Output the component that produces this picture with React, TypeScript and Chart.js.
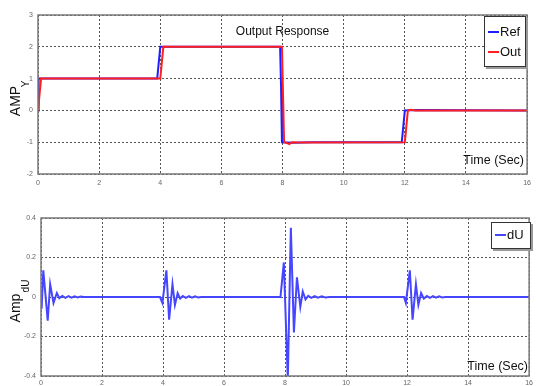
import { useEffect, useRef } from "react";
import { Chart, registerables } from "chart.js";
Chart.register(...registerables);

const FONT = "'Liberation Sans', Arial, sans-serif";

// ---- data ----
const xTickValues = [0, 2, 4, 6, 8, 10, 12, 14, 16];
const yTopTicks = [3, 2, 1, 0, -1, -2];
const yBottomTicks = [0.4, 0.2, 0, -0.2, -0.4];

const refT = [0, 0.02, 0.3, 3.9, 4.0, 4.3, 7.92, 7.95, 7.98, 8.3, 9.0, 11.9, 12.0, 12.3, 16];
const refY = [0, 1, 1, 1, 2, 2, 2, 0.8, -1, -1.02, -1, -1, 0, 0.01, 0];

const outT = [0, 0.1, 4.0, 4.1, 7.98, 8.05, 8.15, 8.22, 8.3, 8.45, 12.0, 12.1, 12.2, 12.35, 16];
const outY = [0, 1, 1, 2, 2, -1, -1.03, -1.06, -1.0, -1.01, -1, 0, 0.02, 0, 0];

const duT = [
  0, 0.02, 0.075, 0.22, 0.3, 0.41, 0.52, 0.6, 0.7, 0.8, 0.9, 1.0, 1.1, 1.2, 1.3, 1.4,
  3.9, 3.98, 4.11, 4.2, 4.31, 4.39, 4.48, 4.56, 4.65, 4.75, 4.85, 4.95, 5.05, 5.15, 5.25,
  7.85, 7.96, 8.09, 8.19, 8.29, 8.39, 8.5, 8.58, 8.67, 8.76, 8.86, 8.97, 9.08, 9.2, 9.32, 9.45,
  11.9, 11.96, 12.09, 12.18, 12.29, 12.37, 12.46, 12.55, 12.65, 12.75, 12.85, 12.95, 13.05, 13.15, 13.25,
  16,
];
const duV = [
  0, -0.06, 0.135, -0.12, 0.065, -0.03, 0.02, -0.006, 0.005, -0.004, 0.004, -0.003, 0.003, -0.002, 0.002, 0,
  0, -0.03, 0.135, -0.115, 0.065, -0.04, 0.02, -0.008, 0.005, -0.004, 0.004, -0.003, 0.003, -0.002, 0,
  0, 0.175, -0.42, 0.35, -0.18, 0.1, -0.05, 0.028, -0.012, 0.006, -0.004, 0.004, -0.003, 0.003, -0.002, 0,
  0, -0.03, 0.135, -0.115, 0.065, -0.04, 0.02, -0.008, 0.005, -0.004, 0.004, -0.003, 0.003, -0.002, 0,
  0,
];

const toPts = (t: number[], v: number[]) => t.map((x, i) => ({ x, y: v[i] }));

type Deco = {
  title?: string;
  yMain: string;
  ySub: string;
  yMainPos: [number, number];
  ySubPos: [number, number];
  timePos: [number, number];
  legend: { box: [number, number, number, number]; items: { label: string; color: string; y: number }[] };
};

function decoPlugin(d: Deco) {
  return {
    id: "deco",
    afterDraw(chart: any) {
      const ctx = chart.ctx as CanvasRenderingContext2D;
      const a = chart.chartArea;
      ctx.save();
      ctx.strokeStyle = "#7a7a7a";
      ctx.lineWidth = 1.5;
      ctx.strokeRect(a.left, a.top, a.right - a.left, a.bottom - a.top);
      ctx.fillStyle = "#111";
      ctx.textBaseline = "middle";
      if (d.title) {
        ctx.font = `12px ${FONT}`;
        ctx.textAlign = "center";
        ctx.fillText(d.title, (a.left + a.right) / 2, a.top + 17);
      }
      ctx.font = `12.5px ${FONT}`;
      ctx.textAlign = "right";
      ctx.fillText("Time (Sec)", d.timePos[0], d.timePos[1]);
      ctx.save();
      ctx.translate(d.yMainPos[0], d.yMainPos[1]);
      ctx.rotate(-Math.PI / 2);
      ctx.textAlign = "center";
      ctx.font = `14px ${FONT}`;
      ctx.fillText(d.yMain, 0, 0);
      ctx.restore();
      ctx.save();
      ctx.translate(d.ySubPos[0], d.ySubPos[1]);
      ctx.rotate(-Math.PI / 2);
      ctx.textAlign = "center";
      ctx.font = `10px ${FONT}`;
      ctx.fillText(d.ySub, 0, 0);
      ctx.restore();
      const [bx, by, bw, bh] = d.legend.box;
      ctx.fillStyle = "#9a9a9a";
      ctx.fillRect(bx + 2, by + 2, bw, bh);
      ctx.fillStyle = "#fff";
      ctx.fillRect(bx, by, bw, bh);
      ctx.strokeStyle = "#333";
      ctx.lineWidth = 1;
      ctx.strokeRect(bx + 0.5, by + 0.5, bw - 1, bh - 1);
      ctx.font = `13px ${FONT}`;
      ctx.textAlign = "left";
      for (const it of d.legend.items) {
        ctx.strokeStyle = it.color;
        ctx.lineWidth = 2;
        ctx.beginPath();
        ctx.moveTo(bx + 4, it.y);
        ctx.lineTo(bx + 15, it.y);
        ctx.stroke();
        ctx.fillStyle = "#111";
        ctx.fillText(it.label, bx + 16, it.y);
      }
      ctx.restore();
    },
  };
}

function axisOpts(ticks: number[], min: number, max: number, fit: (s: any) => void, pad: number) {
  return {
    type: "linear" as const,
    min,
    max,
    afterFit: fit,
    afterBuildTicks: (s: any) => {
      s.ticks = ticks.map((v) => ({ value: v }));
    },
    ticks: {
      font: { size: 7, family: FONT },
      color: "#666",
      padding: pad,
      autoSkip: false,
      maxRotation: 0,
      callback: (v: any) => String(v),
    },
    grid: { color: "#555", lineWidth: 1, drawTicks: false },
    border: { display: false, dash: [2, 2] },
  };
}

function useChart(ref: any, cfg: () => any) {
  useEffect(() => {
    const c = new Chart(ref.current, cfg());
    return () => c.destroy();
  }, []);
}

export default function App() {
  const topRef = useRef<HTMLCanvasElement>(null);
  const botRef = useRef<HTMLCanvasElement>(null);

  useChart(topRef, () => ({
    type: "line",
    data: {
      datasets: [
        { label: "Ref", data: toPts(refT, refY), borderColor: "#1f1fff", borderWidth: 2, pointRadius: 0, order: 1, tension: 0 },
        { label: "Out", data: toPts(outT, outY), borderColor: "#ff1f1f", borderWidth: 2, pointRadius: 0, order: 0, tension: 0 },
      ],
    },
    options: {
      responsive: false,
      animation: false,
      layout: { padding: { left: 0, right: 7, top: 15, bottom: 0 } },
      plugins: { legend: { display: false }, tooltip: { enabled: false } },
      scales: {
        x: axisOpts(xTickValues, 0, 16, (s: any) => { s.height = 19; }, 5),
        y: axisOpts(yTopTicks, -2, 3, (s: any) => { s.width = 38; }, 5),
      },
    },
    plugins: [
      decoPlugin({
        title: "Output Response",
        yMain: "AMP",
        ySub: "Y",
        yMainPos: [16, 101],
        ySubPos: [26, 84],
        timePos: [524, 161],
        legend: {
          box: [484, 16, 42, 51],
          items: [
            { label: "Ref", color: "#1f1fff", y: 32 },
            { label: "Out", color: "#ff1f1f", y: 52 },
          ],
        },
      }),
    ],
  }));

  useChart(botRef, () => ({
    type: "line",
    data: {
      datasets: [
        { label: "dU", data: toPts(duT, duV), borderColor: "#4646ff", borderWidth: 2, pointRadius: 0, tension: 0 },
      ],
    },
    options: {
      responsive: false,
      animation: false,
      layout: { padding: { left: 0, right: 4, top: 25, bottom: 0 } },
      plugins: { legend: { display: false }, tooltip: { enabled: false } },
      scales: {
        x: axisOpts(xTickValues, 0, 16, (s: any) => { s.height = 10; }, 3),
        y: axisOpts(yBottomTicks, -0.4, 0.4, (s: any) => { s.width = 41; }, 5),
      },
    },
    plugins: [
      decoPlugin({
        yMain: "Amp",
        ySub: "dU",
        yMainPos: [16, 115],
        ySubPos: [26, 93],
        timePos: [528, 174],
        legend: {
          box: [491, 29, 40, 27],
          items: [{ label: "dU", color: "#4646ff", y: 42 }],
        },
      }),
    ],
  }));

  return (
    <div style={{ position: "absolute", left: 0, top: 0, width: 536, height: 386, background: "#fff" }}>
      <canvas ref={topRef} width={536} height={193} style={{ display: "block" }} />
      <canvas ref={botRef} width={536} height={193} style={{ display: "block" }} />
    </div>
  );
}
